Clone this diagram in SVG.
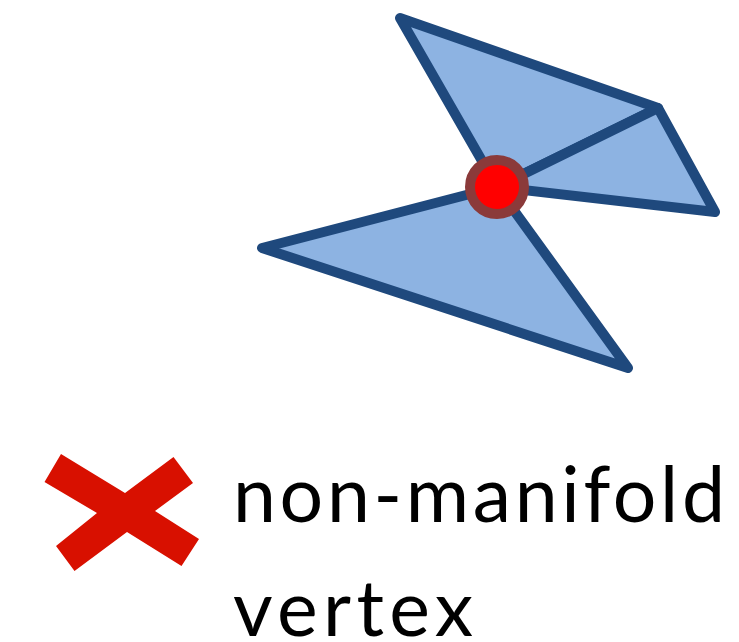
<svg xmlns="http://www.w3.org/2000/svg" width="739" height="642" viewBox="0 0 739 642">
  <style>
    .face { fill: #8DB3E2; stroke: #1F497D; stroke-width: 10; stroke-linejoin: round; stroke-linecap: round; }
    .label { font-family: "Lato", "Open Sans", "DejaVu Sans", sans-serif; font-size: 77px; fill: #000000; }
  </style>
  <rect width="739" height="642" fill="#ffffff"/>

  <!-- faces sharing only the central vertex -->
  <g id="faces">
    <polygon id="face-top" class="face" points="400,18 658,108 497,187"/>
    <polygon id="face-right" class="face" points="658,108 715,212 497,187"/>
    <polygon id="face-bottom" class="face" points="497,187 262,248 628,368"/>
  </g>

  <!-- the shared vertex -->
  <g id="vertex">
    <circle cx="497" cy="187" r="27" fill="#FF0000" stroke="#8B3A3A" stroke-width="10"/>
  </g>

  <!-- cross mark -->
  <g id="cross">
    <polygon fill="#D81000" points="61,454 44.5,482 97,513 56,546 74.5,571 127,532 181.5,566 199,539 155,511 193,483 173.5,457 125,493"/>
  </g>

  <!-- caption -->
  <g id="caption">
    <text class="label" x="233" y="522" textLength="492">non-manifold</text>
    <text class="label" x="233" y="636" textLength="240">vertex</text>
  </g>
</svg>
